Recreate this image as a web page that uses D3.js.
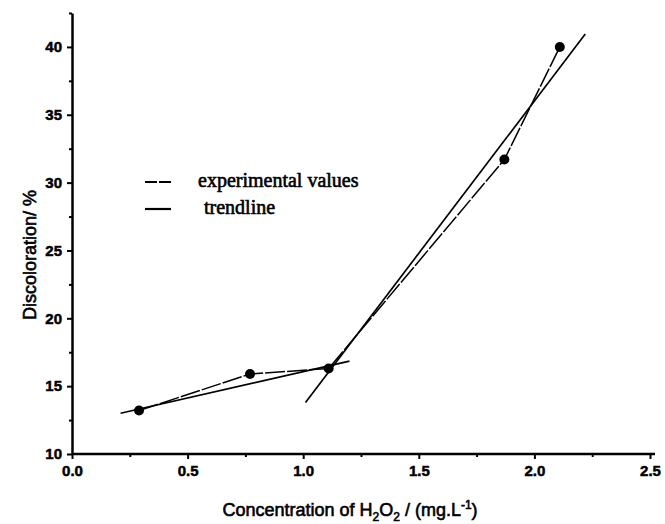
<!DOCTYPE html>
<html>
<head>
<meta charset="utf-8">
<script src="https://cdn.jsdelivr.net/npm/d3@7"></script>
<style>
  body { margin: 0; background: #fff; }
  text { fill: #000; }
</style>
</head>
<body>
<div id="chart"></div>
<script>
const dim = { width: 665, height: 524 }
const margin = { top: 13, right: 15, bottom: 70, left: 72 }

// measured values
const concentration = [0.29, 0.77, 1.11, 1.87, 2.11]
const discoloration = [13.2, 15.9, 16.3, 31.7, 40.0]

// two fitted trend segments (start / end)
const trendLow = [{ x: 0.21, y: 13.0 }, { x: 1.2, y: 16.85 }]
const trendHigh = [{ x: 1.01, y: 13.8 }, { x: 2.22, y: 40.95 }]

const xTicks = [0, 0.5, 1.0, 1.5, 2.0, 2.5]
const yTicks = [10, 15, 20, 25, 30, 35, 40]
const legendItems = ['experimental values', 'trendline']

const svg = d3.select('#chart')
    .append('svg')
        .attr('width', dim.width)
        .attr('height', dim.height)

const xScale = d3.scaleLinear()
    .domain([0, 2.5])
    .range([margin.left, 650])

const yScale = d3.scaleLinear()
    .domain([10, 42.5])
    .range([454, margin.top])

const points = concentration.map((c, i) => ({ x: c, y: discoloration[i] }))
const line = d3.line().x(d => xScale(d.x)).y(d => yScale(d.y))

// axes
const xAxis = svg.append('g')
    .attr('transform', `translate(0, ${yScale(10)})`)
    .call(d3.axisBottom(xScale).tickValues(xTicks).tickFormat(d3.format('.1f')).tickSize(5).tickSizeOuter(0).tickPadding(6))
const xMinor = svg.append('g')
    .attr('transform', `translate(0, ${yScale(10)})`)
    .call(d3.axisBottom(xScale).tickValues(d3.range(0.25, 2.5, 0.5)).tickFormat('').tickSize(3).tickSizeOuter(0))

const yAxis = svg.append('g')
    .attr('transform', `translate(${xScale(0)}, 0)`)
    .call(d3.axisLeft(yScale).tickValues(yTicks).tickSize(5).tickSizeOuter(0).tickPadding(5))
const yMinor = svg.append('g')
    .attr('transform', `translate(${xScale(0)}, 0)`)
    .call(d3.axisLeft(yScale).tickValues(d3.range(12.5, 43, 5)).tickFormat('').tickSize(3).tickSizeOuter(0))

svg.selectAll('.domain').attr('stroke', '#000').attr('stroke-width', 2.5)
svg.selectAll('.tick line').attr('stroke', '#000').attr('stroke-width', 2)
svg.selectAll('.tick text')
    .attr('font-family', 'Liberation Sans, Arial, sans-serif')
    .attr('font-size', 15)
    .attr('font-weight', 'bold')
    .attr('stroke', '#000')
    .attr('stroke-width', 0.5)
xMinor.select('.domain').remove()
yMinor.select('.domain').remove()
xAxis.select('.domain').attr('d', `M${xScale(0)},0H655`)

// axis titles
const xTitle = svg.append('text')
    .attr('x', (xScale(0) + xScale(2.5)) / 2 - 11)
    .attr('y', 516)
    .attr('text-anchor', 'middle')
    .attr('font-family', 'Liberation Sans, Arial, sans-serif')
    .attr('font-size', 18)
    .attr('stroke', '#000')
    .attr('stroke-width', 0.6)
xTitle.append('tspan').text('Concentration of H')
xTitle.append('tspan').attr('font-size', 12).attr('dy', 5).text('2')
xTitle.append('tspan').attr('dy', -5).text('O')
xTitle.append('tspan').attr('font-size', 12).attr('dy', 5).text('2')
xTitle.append('tspan').attr('dy', -5).text(' / (mg.L')
xTitle.append('tspan').attr('font-size', 12).attr('dy', -7).text('-1')
xTitle.append('tspan').attr('dy', 7).text(')')

svg.append('text')
    .attr('transform', `translate(36, 255) rotate(-90)`)
    .attr('text-anchor', 'middle')
    .attr('font-family', 'Liberation Sans, Arial, sans-serif')
    .attr('font-size', 18)
    .attr('stroke', '#000')
    .attr('stroke-width', 0.6)
    .text('Discoloration/ %')

// trendlines
svg.append('g')
    .selectAll('path')
    .data([trendLow, trendHigh])
    .join('path')
        .attr('d', line)
        .attr('fill', 'none')
        .attr('stroke', '#000')
        .attr('stroke-width', 1.7)

// experimental values
svg.append('path')
    .datum(points)
    .attr('d', line)
    .attr('fill', 'none')
    .attr('stroke', '#000')
    .attr('stroke-width', 1.5)
    .attr('stroke-dasharray', '20,2')

svg.append('g')
    .selectAll('circle')
    .data(points)
    .join('circle')
        .attr('cx', d => xScale(d.x))
        .attr('cy', d => yScale(d.y))
        .attr('r', 5)
        .attr('fill', '#000')

// legend
const legend = svg.append('g')
    .selectAll('g')
    .data(legendItems)
    .join('g')
        .attr('transform', (d, i) => `translate(145, ${182 + i * 27})`)

legend.append('line')
    .attr('x1', 0).attr('x2', 26)
    .attr('stroke', '#000')
    .attr('stroke-width', 2.2)
    .attr('stroke-dasharray', (d, i) => i === 0 ? '12,2' : null)

legend.append('text')
    .attr('x', (d, i) => i === 0 ? 53 : 59)
    .attr('y', 5)
    .attr('font-family', 'Liberation Serif, Times New Roman, serif')
    .attr('font-size', 20)
    .attr('stroke', '#000')
    .attr('stroke-width', 0.6)
    .text(d => d)
</script>
</body>
</html>
